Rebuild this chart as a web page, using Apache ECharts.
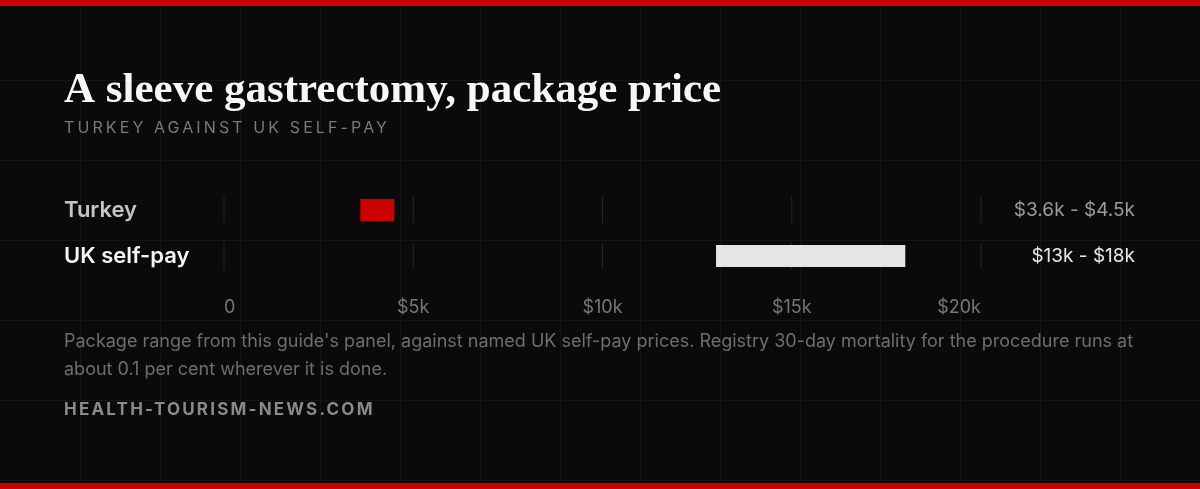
<!DOCTYPE html>
<html>
<head>
<meta charset="utf-8">
<script src="https://cdn.jsdelivr.net/npm/echarts@6/dist/echarts.min.js"></script>
<style>
html,body{margin:0;padding:0;background:#0a0a0a;}
#chart{width:1200px;height:489px;}
</style>
</head>
<body>
<div id="chart"></div>
<script>
// ---- data ----
const categories = ['Turkey', 'UK self-pay'];
const lowValues = [3600, 13000];
const highValues = [4500, 18000];
const tickValues = [0, 5000, 10000, 15000, 20000];
const barColors = ['#cc0000', '#e5e5e5'];

const titleText = 'A sleeve gastrectomy, package price';
const subtitleText = 'TURKEY AGAINST UK SELF-PAY';
const noteText = "Package range from this guide's panel, against named UK self-pay prices. Registry 30-day mortality for the procedure runs at\nabout 0.1 per cent wherever it is done.";
const brandText = 'HEALTH-TOURISM-NEWS.COM';

// ---- helpers ----
function fmtK(v) { return '$' + (v / 1000) + 'k'; }
const rangeLabels = lowValues.map((lo, i) => fmtK(lo) + ' - ' + fmtK(highValues[i]));

// letter spacing for tracked caps text (left-aligned, so measurement unaffected)
const tracking = {};
tracking[subtitleText] = 3.1;
tracking[brandText] = 2.2;
(function () {
  const proto = CanvasRenderingContext2D.prototype;
  const origFill = proto.fillText;
  const hasLS = 'letterSpacing' in proto;
  proto.fillText = function (t, x, y, mw) {
    if (hasLS && tracking[t] !== undefined) {
      const f = this.font;
      this.save();
      this.letterSpacing = tracking[t] + 'px';
      this.font = f;
      origFill.call(this, t, x, y);
      this.restore();
      this.letterSpacing = '0px';
      this.font = f;
    } else if (mw !== undefined) {
      origFill.call(this, t, x, y, mw);
    } else {
      origFill.call(this, t, x, y);
    }
  };
})();

const dom = document.getElementById('chart');
const chart = echarts.init(dom, null, { renderer: 'canvas' });

// background grid
const bgEls = [];
for (let x = 80; x < 1200; x += 80) {
  bgEls.push({ type: 'line', silent: true, z: -10,
    shape: { x1: x + 0.5, y1: 0, x2: x + 0.5, y2: 489 },
    style: { stroke: '#151515', lineWidth: 1 } });
}
for (let y = 80; y < 489; y += 80) {
  bgEls.push({ type: 'line', silent: true, z: -10,
    shape: { x1: 0, y1: y + 0.5, x2: 1200, y2: y + 0.5 },
    style: { stroke: '#151515', lineWidth: 1 } });
}

const tickData = [];
categories.forEach(c => tickValues.forEach(t => tickData.push([t, c])));

const option = {
  backgroundColor: '#0a0a0a',
  animation: false,
  grid: { left: 224, right: 219, top: 187, height: 92, containLabel: false },
  xAxis: {
    type: 'value', min: 0, max: 20000, interval: 5000,
    axisLine: { show: false }, axisTick: { show: false }, splitLine: { show: false },
    axisLabel: {
      color: '#777777', fontSize: 18, fontFamily: 'Inter', margin: 20,
      alignMinLabel: 'left', alignMaxLabel: 'right',
      formatter: v => v === 0 ? '0' : fmtK(v)
    }
  },
  yAxis: [
    {
      type: 'category', data: categories, inverse: true,
      axisLine: { show: false }, axisTick: { show: false }, splitLine: { show: false },
      axisLabel: {
        align: 'left', margin: 160, fontFamily: 'Inter', fontSize: 22, fontWeight: 600,
        formatter: (v, i) => i === 0 ? '{a|' + v + '}' : '{b|' + v + '}',
        rich: {
          a: { color: '#c4c4c4', fontSize: 22, fontWeight: 600, fontFamily: 'Inter' },
          b: { color: '#f5f5f5', fontSize: 22, fontWeight: 600, fontFamily: 'Inter' }
        }
      }
    },
    {
      type: 'category', data: rangeLabels, inverse: true, position: 'right',
      axisLine: { show: false }, axisTick: { show: false }, splitLine: { show: false },
      axisLabel: {
        align: 'right', margin: 154, fontFamily: 'Inter', fontSize: 19,
        formatter: (v, i) => i === 0 ? '{a|' + v + '}' : '{b|' + v + '}',
        rich: {
          a: { color: '#9a9a9a', fontSize: 19, fontFamily: 'Inter' },
          b: { color: '#e8e8e8', fontSize: 19, fontFamily: 'Inter' }
        }
      }
    }
  ],
  series: [
    {
      type: 'scatter', name: 'ticks', data: tickData, silent: true, z: 1,
      symbol: 'rect', symbolSize: [1, 27],
      itemStyle: { color: '#2c2c2c' }
    },
    {
      type: 'bar', name: 'base', stack: 'range', barWidth: 22, silent: true, z: 2,
      data: lowValues, itemStyle: { color: 'transparent' }
    },
    {
      type: 'bar', name: 'range', stack: 'range', barWidth: 22, z: 3,
      data: highValues.map((h, i) => ({ value: h - lowValues[i], itemStyle: { color: barColors[i] } }))
    }
  ],
  graphic: {
    elements: bgEls.concat([
      { type: 'rect', silent: true, shape: { x: 0, y: 0, width: 1200, height: 6 }, style: { fill: '#cc0000' } },
      { type: 'rect', silent: true, shape: { x: 0, y: 483, width: 1200, height: 6 }, style: { fill: '#cc0000' } },
      { type: 'text', left: 64, top: 69, silent: true,
        style: { text: titleText, fill: '#f7f7f7', font: 'bold 43px "Liberation Serif"' } },
      { type: 'text', left: 64, top: 120, silent: true,
        style: { text: subtitleText, fill: '#7a7a7a', font: '16px Inter' } },
      { type: 'text', left: 64, top: 328, silent: true,
        style: { text: noteText, fill: '#6e6e6e', font: '18px Inter', lineHeight: 28 } },
      { type: 'text', left: 64, top: 401, silent: true,
        style: { text: brandText, fill: '#8a8a8a', font: 'bold 17px Inter' } }
    ])
  }
};
chart.setOption(option);
</script>
</body>
</html>
